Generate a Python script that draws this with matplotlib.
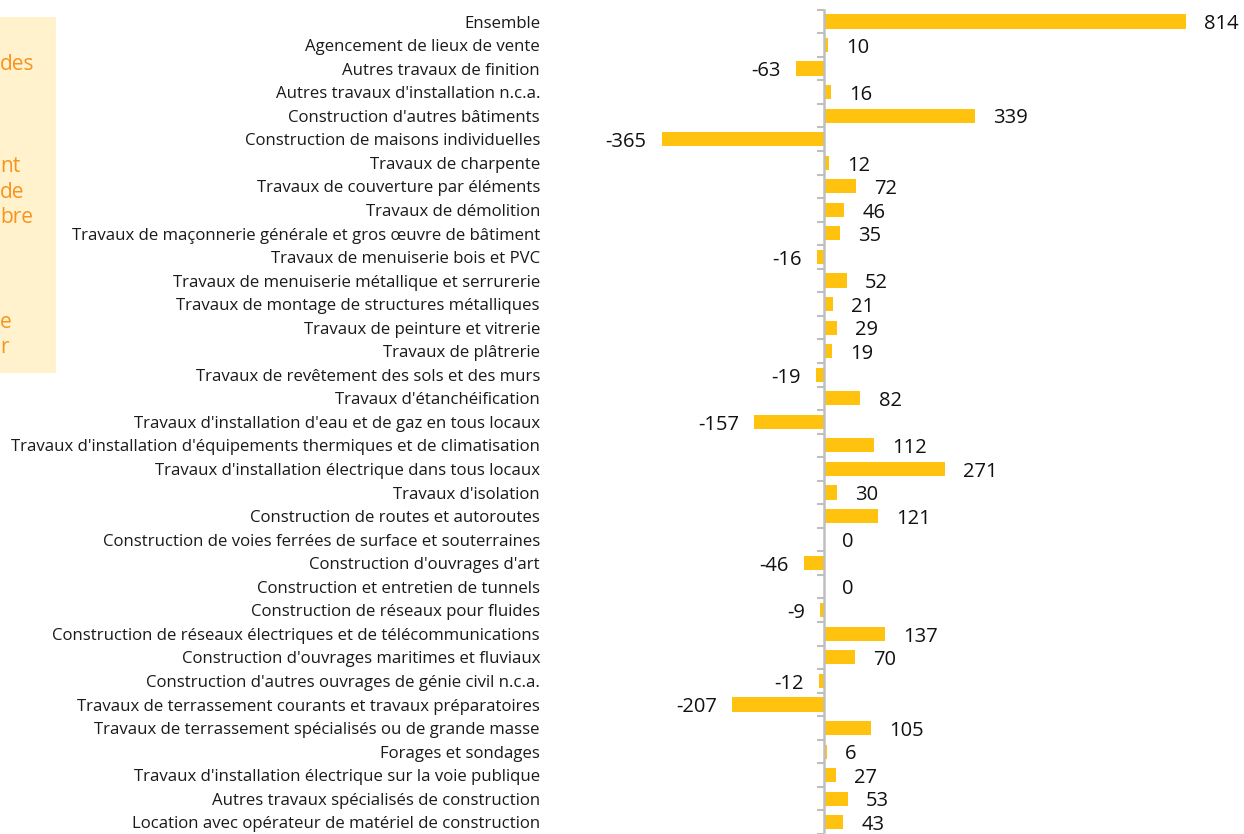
import numpy as np
import matplotlib.pyplot as plt
import matplotlib.transforms as mtransforms
from matplotlib.patches import Rectangle

plt.rcParams['font.family'] = ['Open Sans', 'DejaVu Sans']

secteurs = [
    "Ensemble",
    "Agencement de lieux de vente",
    "Autres travaux de finition",
    "Autres travaux d'installation n.c.a.",
    "Construction d'autres bâtiments",
    "Construction de maisons individuelles",
    "Travaux de charpente",
    "Travaux de couverture par éléments",
    "Travaux de démolition",
    "Travaux de maçonnerie générale et gros œuvre de bâtiment",
    "Travaux de menuiserie bois et PVC",
    "Travaux de menuiserie métallique et serrurerie",
    "Travaux de montage de structures métalliques",
    "Travaux de peinture et vitrerie",
    "Travaux de plâtrerie",
    "Travaux de revêtement des sols et des murs",
    "Travaux d'étanchéification",
    "Travaux d'installation d'eau et de gaz en tous locaux",
    "Travaux d'installation d'équipements thermiques et de climatisation",
    "Travaux d'installation électrique dans tous locaux",
    "Travaux d'isolation",
    "Construction de routes et autoroutes",
    "Construction de voies ferrées de surface et souterraines",
    "Construction d'ouvrages d'art",
    "Construction et entretien de tunnels",
    "Construction de réseaux pour fluides",
    "Construction de réseaux électriques et de télécommunications",
    "Construction d'ouvrages maritimes et fluviaux",
    "Construction d'autres ouvrages de génie civil n.c.a.",
    "Travaux de terrassement courants et travaux préparatoires",
    "Travaux de terrassement spécialisés ou de grande masse",
    "Forages et sondages",
    "Travaux d'installation électrique sur la voie publique",
    "Autres travaux spécialisés de construction",
    "Location avec opérateur de matériel de construction",
]
variation = [814, 10, -63, 16, 339, -365, 12, 72, 46, 35, -16, 52, 21, 29, 19,
             -19, 82, -157, 112, 271, 30, 121, 0, -46, 0, -9, 137, 70, -12,
             -207, 105, 6, 27, 53, 43]

# bout de l'encadré à gauche (texte coupé)
encadre_txt = ["des", "nt", "de", "bre", "e", "r"]
encadre_y = [65, 167, 193, 218, 322, 347]

W, H = 1244, 834
fig = plt.figure(figsize=(W / 100, H / 100), dpi=100)

# zéro à x=824 px, 814 -> 1186 px
k = (1186 - 824) / 814.0
x0, x1 = 548, 1244
ax = fig.add_axes([x0 / W, 0, (x1 - x0) / W, 1])
ax.set_xlim((x0 - 824) / k, (x1 - 824) / k)
haut, bas = 21.5, 824.0
pas = (bas - haut) / 34.0
ybas = 34 + (H - bas) / pas
ax.set_ylim(ybas, -haut / pas)

y = np.arange(len(secteurs))
ax.barh(y, variation, height=0.6, color='#ffc20e', zorder=2)

for yi, v in zip(y, variation):
    if v >= 0:
        ax.annotate(str(v), (v, yi), xytext=(13, -2), textcoords='offset points',
                    ha='left', va='center', fontsize=14.5, color='#111111')
    else:
        ax.annotate(str(v), (v, yi), xytext=(-11, -2), textcoords='offset points',
                    ha='right', va='center', fontsize=14.5, color='#111111')

# noms des secteurs alignés à droite à x=540 px
trans = mtransforms.blended_transform_factory(
    mtransforms.Affine2D().scale(1.0 / W) + fig.transFigure, ax.transData)
trans = trans + mtransforms.ScaledTranslation(0, -1.5 / 72, fig.dpi_scale_trans)
for yi, nom in zip(y, secteurs):
    ax.text(540, yi, nom, transform=trans, ha='right', va='center',
            fontsize=12.1, color='#1a1a1a', clip_on=False)

for s in ['top', 'right', 'bottom']:
    ax.spines[s].set_visible(False)
ax.spines['left'].set_position(('data', 0))
ax.spines['left'].set_color('#bfbfbf')
ax.spines['left'].set_linewidth(1.8)
ax.spines['left'].set_bounds(-0.5, ybas)
ax.set_xticks([])
ax.set_yticks([])
ax.set_yticks(np.arange(-0.5, 34.6, 1.0), minor=True)
ax.tick_params(axis='y', which='minor', direction='out', length=5,
               width=1.5, color='#bfbfbf', labelleft=False)

# encadré
fig.patches.append(Rectangle((0, 1 - 373 / H), 56 / W, (373 - 17) / H,
                             transform=fig.transFigure, facecolor='#fff2cc',
                             edgecolor='none', zorder=0))
for t, yy in zip(encadre_txt, encadre_y):
    fig.text(0, 1 - yy / H, t, ha='left', va='center', fontsize=15,
             color='#f7931e')

fig.savefig('out.png', dpi=100)
